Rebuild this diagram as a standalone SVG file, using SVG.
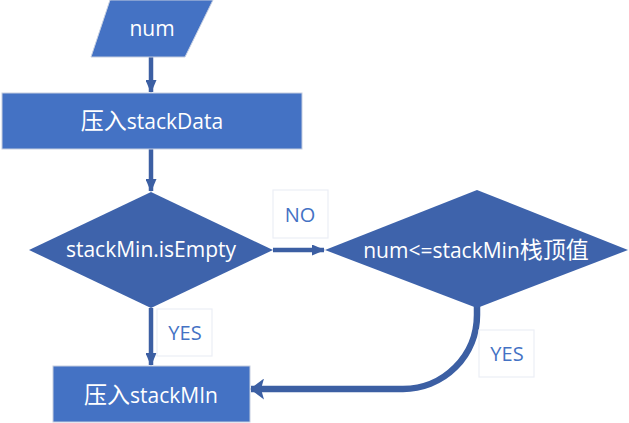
<svg xmlns="http://www.w3.org/2000/svg" width="629" height="423" viewBox="0 0 629 423">
  <defs>
    <style>
      .proc { fill: #4472C4; stroke: #C5CEE0; stroke-width: 1; }
      .dec { fill: #3E63AB; stroke: none; }
      .txt { font-family: "Open Sans", "Noto Sans CJK SC", sans-serif; font-size: 21px; fill: #FFFFFF; text-anchor: middle; }
      .cjk { font-family: "Noto Sans CJK SC", sans-serif; font-size: 23px; }
      .lbl-box { fill: #FFFFFF; stroke: #ECEEF6; stroke-width: 1.2; }
      .lbl { font-family: "Open Sans", "Noto Sans CJK SC", sans-serif; font-size: 20px; fill: #4472C4; text-anchor: middle; }
      .conn { fill: none; stroke: #3C5FA3; stroke-width: 4.5; }
      .conn-thick { fill: none; stroke: #3C5FA3; stroke-width: 6.5; }
    </style>
    <marker id="arrow" markerUnits="userSpaceOnUse" markerWidth="13" markerHeight="11" refX="12" refY="5.5" orient="auto">
      <path d="M0,0 L13,5.5 L0,11 Z" fill="#3C5FA3"/>
    </marker>
    <marker id="arrow-big" markerUnits="userSpaceOnUse" markerWidth="14" markerHeight="21" refX="13" refY="10.5" orient="auto">
      <path d="M0,0 L14,10.5 L0,21 L3,10.5 Z" fill="#3C5FA3"/>
    </marker>
  </defs>

  <g id="connectors">
    <path class="conn" d="M151,57 L151,92" marker-end="url(#arrow)"/>
    <path class="conn" d="M151,149 L151,191" marker-end="url(#arrow)"/>
    <path class="conn" d="M273,250 L324,250" marker-end="url(#arrow)"/>
    <path class="conn" d="M151,308 L151,365" marker-end="url(#arrow)"/>
    <path class="conn-thick" d="M477,306 L477,315 A74,74 0 0 1 403,389 L251,389" marker-end="url(#arrow-big)"/>
  </g>

  <g id="node-num">
    <polygon class="proc" points="110,0 213,0 185,57 91,57"/>
    <text class="txt" x="152" y="36">num</text>
  </g>

  <g id="node-push-data">
    <rect class="proc" x="2" y="93" width="300" height="56"/>
    <text class="txt" x="152" y="129"><tspan class="cjk">压入</tspan>stackData</text>
  </g>

  <g id="node-isempty">
    <polygon class="dec" points="151,192 273,250 151,308 29,250"/>
    <text class="txt" x="151" y="257">stackMin.isEmpty</text>
  </g>

  <g id="node-compare">
    <polygon class="dec" points="477,190 628,250 477,308 325,250"/>
    <text class="txt" x="476" y="258">num&lt;=stackMin<tspan class="cjk">栈顶值</tspan></text>
  </g>

  <g id="node-push-min">
    <rect class="proc" x="53" y="366" width="197" height="56"/>
    <text class="txt" x="151" y="403"><tspan class="cjk">压入</tspan>stackMIn</text>
  </g>

  <g id="label-no">
    <rect class="lbl-box" x="273" y="190" width="55" height="48"/>
    <text class="lbl" x="300" y="222">NO</text>
  </g>

  <g id="label-yes-1">
    <rect class="lbl-box" x="157" y="309" width="55" height="47"/>
    <text class="lbl" x="185" y="340">YES</text>
  </g>

  <g id="label-yes-2">
    <rect class="lbl-box" x="479" y="330" width="55" height="47"/>
    <text class="lbl" x="507" y="361">YES</text>
  </g>
</svg>
